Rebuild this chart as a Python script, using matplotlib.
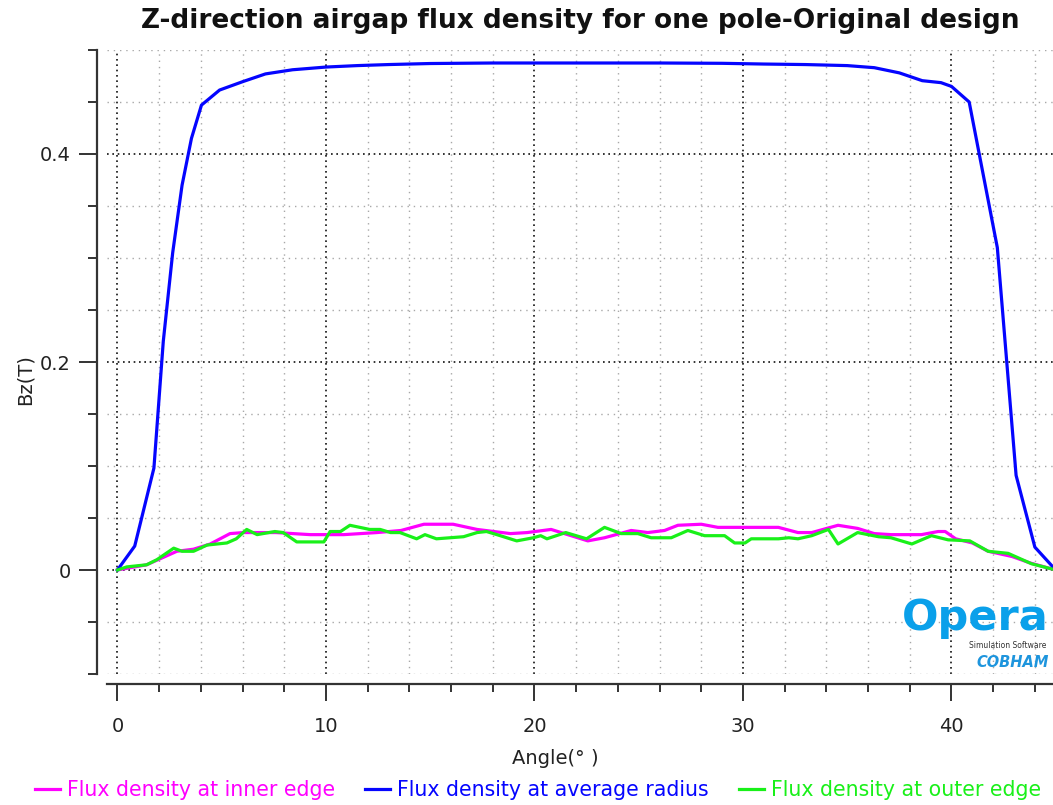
import matplotlib
matplotlib.use("Agg")
import matplotlib.pyplot as plt
from matplotlib.ticker import MultipleLocator, FuncFormatter

# Flux density at the inner edge (angle in degrees, Bz in tesla)
inner_angle = [0, 1.4, 2.85, 3.65, 4.45, 5.4, 6.05, 7.6, 9.25, 10.85,
               12.45, 13.6, 14.7, 16.1, 17.25, 18.85, 19.65, 20.8, 21.76, 22.56,
               23.36, 24.64, 25.44, 26.24, 26.88, 28.0, 28.8, 30.1, 31.7, 32.64,
               33.3, 34.56, 35.5, 36.3, 37.1, 38.56, 39.36, 39.7, 40.2, 41.0,
               41.76, 42.9, 43.8, 45.0]
inner_bz = [0, 0.005, 0.018, 0.02, 0.025, 0.035, 0.036, 0.036, 0.034, 0.034,
            0.036, 0.038, 0.044, 0.044, 0.039, 0.035, 0.036, 0.039, 0.033, 0.028,
            0.031, 0.038, 0.036, 0.038, 0.043, 0.044, 0.041, 0.041, 0.041, 0.036,
            0.036, 0.043, 0.040, 0.035, 0.034, 0.034, 0.037, 0.037, 0.030, 0.026,
            0.018, 0.013, 0.0066, 0.0]

# Flux density at the average radius
avg_angle = [0.0, 0.83, 1.75, 2.2, 2.65, 3.1, 3.55, 4.03, 4.9, 6.0,
             7.1, 8.4, 10.0, 11.5, 13.0, 15.0, 18.0, 22.0, 26.0, 29.0,
             31.0, 33.0, 35.0, 36.3, 37.5, 38.6, 39.5, 40.0, 40.85, 42.2,
             43.1, 44.0, 45.0]
avg_bz = [0.0, 0.023, 0.098, 0.22, 0.305, 0.37, 0.415, 0.447, 0.4615, 0.4695,
          0.477, 0.481, 0.4836, 0.485, 0.486, 0.487, 0.4875, 0.4875, 0.4875, 0.4872,
          0.4865, 0.486, 0.485, 0.483, 0.478, 0.4705, 0.4686, 0.465, 0.450, 0.31,
          0.091, 0.022, 0.0]

# Flux density at the outer edge
outer_angle = [0, 0.45, 1.4, 1.9, 2.7, 3.1, 3.65, 4.3, 5.25, 5.7,
               6.2, 6.7, 7.55, 7.95, 8.6, 9.9, 10.2, 10.7, 11.15, 12.1,
               12.6, 13.1, 13.55, 14.35, 14.75, 15.3, 16.6, 17.25, 17.7, 18.2,
               19.15, 19.95, 20.3, 20.6, 21.5, 22.5, 23.36, 24.16, 24.96, 25.6,
               26.56, 27.36, 28.16, 29.12, 29.6, 30.1, 30.4, 31.7, 32.2, 32.64,
               33.3, 34.1, 34.56, 35.5, 36.5, 37.1, 38.1, 39.04, 39.84, 40.88,
               41.76, 42.72, 43.84, 45.0]
outer_bz = [0, 0.003, 0.005, 0.01, 0.021, 0.018, 0.018, 0.024, 0.026, 0.030,
            0.039, 0.034, 0.037, 0.036, 0.027, 0.027, 0.037, 0.037, 0.043, 0.039,
            0.039, 0.036, 0.036, 0.030, 0.034, 0.030, 0.032, 0.036, 0.037, 0.034,
            0.028, 0.031, 0.033, 0.030, 0.036, 0.030, 0.041, 0.035, 0.035, 0.031,
            0.031, 0.038, 0.033, 0.033, 0.026, 0.026, 0.030, 0.030, 0.031, 0.030,
            0.033, 0.039, 0.025, 0.036, 0.032, 0.031, 0.025, 0.033, 0.029, 0.028,
            0.018, 0.016, 0.006, 0.0]

series_labels = ["Flux density at inner edge",
                 "Flux density at average radius",
                 "Flux density at outer edge"]
series_colors = ["#ff00ff", "#0505ff", "#19f019"]

title_text = "Z-direction airgap flux density for one pole-Original design"
x_label = "Angle(\u00b0 )"
y_label = "Bz(T)"

W, H = 1053, 805
fig = plt.figure(figsize=(W / 100, H / 100), dpi=100)
plt.rcParams["font.family"] = ["DejaVu Sans"]

left, right, top, bottom = 107, 1053, 50, 674
ax = fig.add_axes([left / W, 1 - bottom / H, (right - left) / W, (bottom - top) / H])

for xs, ys, lab, col in zip([inner_angle, avg_angle, outer_angle],
                            [inner_bz, avg_bz, outer_bz],
                            series_labels, series_colors):
    ax.plot(xs, ys, color=col, lw=2.3, label=lab, solid_joinstyle="round", zorder=3)

ax.set_xlim(-0.5, 44.87)
ax.set_ylim(-0.1, 0.5)

ax.xaxis.set_major_locator(MultipleLocator(10))
ax.xaxis.set_minor_locator(MultipleLocator(2))
ax.yaxis.set_major_locator(MultipleLocator(0.2))
ax.yaxis.set_minor_locator(MultipleLocator(0.05))
ax.yaxis.set_major_formatter(FuncFormatter(lambda v, p: "%g" % round(v, 3)))

ax.grid(which="minor", color="#a8a8a8", linestyle=(0, (1, 3.5)), lw=1.0, zorder=1)
ax.grid(which="major", color="#111111", linestyle=(0, (1, 2.2)), lw=1.2, zorder=1)

for s in ("top", "right"):
    ax.spines[s].set_visible(False)
ax.spines["left"].set_position(("outward", 7))
ax.spines["bottom"].set_position(("outward", 7))
for s in ("left", "bottom"):
    ax.spines[s].set_color("#333333")
    ax.spines[s].set_linewidth(1.6)

ax.tick_params(which="major", axis="y", length=13, width=1.4, color="#333333",
               labelsize=14, labelcolor="#222222", pad=6)
ax.tick_params(which="minor", axis="y", length=6.5, width=1.4, color="#333333")
ax.tick_params(which="major", axis="x", length=12, width=1.4, color="#333333",
               labelsize=14, labelcolor="#222222", pad=12)
ax.tick_params(which="minor", axis="x", length=6, width=1.4, color="#333333")

ax.set_xlabel(x_label, fontsize=14, color="#222222")
ax.xaxis.set_label_coords((555 - left) / (right - left), -(749 - bottom) / (bottom - top))
ax.set_ylabel(y_label, fontsize=14, color="#222222")
ax.yaxis.label.set_verticalalignment("center")
ax.yaxis.set_label_coords((25 - left) / (right - left), (bottom - 380) / (bottom - top))

fig.text(580 / W, 1 - 21 / H, title_text, ha="center", va="center",
         fontsize=19, fontweight="bold", color="#111111")

# Opera logo in the lower-right corner of the plot
ax.text(1049 / W, 1 - 630 / H, "Opera", transform=fig.transFigure, ha="right",
        va="baseline", fontsize=31, fontweight="bold", color="#0aa0ea", zorder=5)
ax.text(1046 / W, 1 - 645 / H, "Simulation Software", transform=fig.transFigure,
        ha="right", va="center", fontsize=5.5, color="#333333", zorder=5)
ax.text(1049 / W, 1 - 662 / H, "COBHAM", transform=fig.transFigure, ha="right",
        va="center", fontsize=10.5, fontweight="bold", style="italic",
        color="#1e95dd", zorder=5)

handles, labels = ax.get_legend_handles_labels()
fig.legend(handles, labels, loc="center", bbox_to_anchor=(538 / W, 1 - 790 / H),
           ncol=3, frameon=False, fontsize=14.8, labelcolor="linecolor",
           handlelength=1.22, handletextpad=0.34, columnspacing=1.45)

fig.savefig("out.png", dpi=100)
